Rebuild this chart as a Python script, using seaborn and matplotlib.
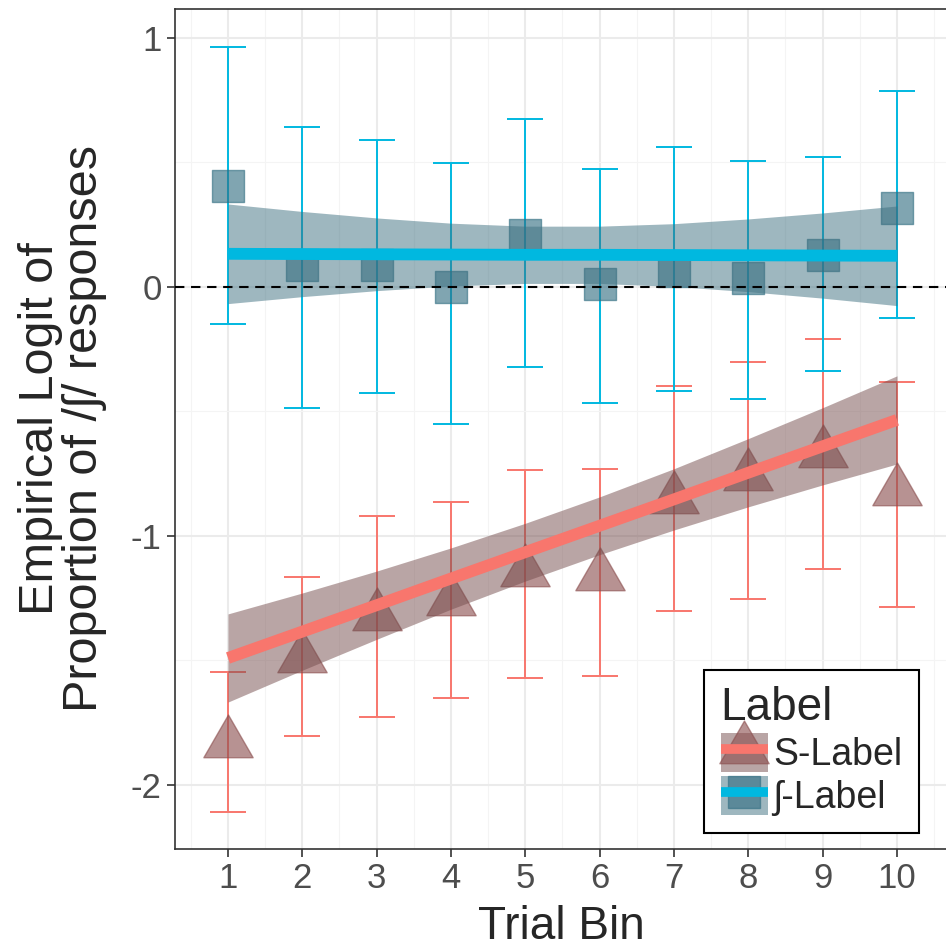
import numpy as np
import pandas as pd
import seaborn as sns
import matplotlib.pyplot as plt
from matplotlib.path import Path
from matplotlib.lines import Line2D
from matplotlib.patches import Patch

# data
bins = [1, 2, 3, 4, 5, 6, 7, 8, 9, 10]

s_mean = [-1.83, -1.49, -1.32, -1.26, -1.145, -1.16, -0.85, -0.76, -0.665, -0.82]
s_low = [-2.108, -1.803, -1.728, -1.649, -1.569, -1.563, -1.30, -1.254, -1.133, -1.285]
s_high = [-1.545, -1.165, -0.92, -0.862, -0.736, -0.731, -0.398, -0.300, -0.209, -0.380]
s_fit = [-1.490, -1.384, -1.278, -1.171, -1.065, -0.959, -0.853, -0.746, -0.640, -0.534]
s_fit_low = [-1.667, -1.539, -1.415, -1.294, -1.181, -1.075, -0.976, -0.883, -0.795, -0.711]
s_fit_high = [-1.313, -1.229, -1.141, -1.048, -0.949, -0.843, -0.730, -0.609, -0.485, -0.357]

sh_mean = [0.406, 0.090, 0.088, -0.002, 0.209, 0.012, 0.064, 0.036, 0.128, 0.317]
sh_low = [-0.150, -0.486, -0.426, -0.552, -0.321, -0.468, -0.419, -0.451, -0.337, -0.126]
sh_high = [0.965, 0.643, 0.590, 0.498, 0.675, 0.473, 0.560, 0.506, 0.523, 0.787]
sh_fit = [0.133, 0.132, 0.131, 0.130, 0.129, 0.129, 0.128, 0.127, 0.126, 0.125]
sh_fit_low = [-0.067, -0.039, -0.015, 0.004, 0.014, 0.014, 0.002, -0.019, -0.045, -0.075]
sh_fit_high = [0.333, 0.303, 0.277, 0.256, 0.244, 0.244, 0.254, 0.273, 0.297, 0.325]

labels = ["S-Label", "\u0283-Label"]

df = pd.DataFrame({
    "bin": bins * 2,
    "label": [labels[0]] * 10 + [labels[1]] * 10,
    "mean": s_mean + sh_mean,
    "low": s_low + sh_low,
    "high": s_high + sh_high,
    "fit": s_fit + sh_fit,
    "fit_low": s_fit_low + sh_fit_low,
    "fit_high": s_fit_high + sh_fit_high,
})

sns.set_style("white")
plt.rcParams["font.family"] = ["Liberation Sans", "DejaVu Sans"]
plt.rcParams["axes.unicode_minus"] = False

line_col = {labels[0]: "#F8766D", labels[1]: "#00B8E0"}
pt_col = {labels[0]: "#8C5050", labels[1]: "#326E82"}
band_col = {labels[0]: "#754D4D", labels[1]: "#3E7080"}
tri = Path([(0, 1), (-0.866, -0.5), (0.866, -0.5), (0, 1)],
           [Path.MOVETO, Path.LINETO, Path.LINETO, Path.CLOSEPOLY])
marker = {labels[0]: tri, labels[1]: "s"}
msize = {labels[0]: 41, labels[1]: 23}

fig = plt.figure(figsize=(9.46, 9.48), dpi=100)
ax = fig.add_axes([175 / 946, 99 / 948, 772 / 946, 840 / 948])

for lab in labels:
    d = df[df["label"] == lab]
    ax.errorbar(d["bin"], d["mean"],
                yerr=[d["mean"] - d["low"], d["high"] - d["mean"]],
                fmt="none", ecolor=line_col[lab], elinewidth=1.4,
                capsize=13, capthick=1.4, zorder=2)
    sns.scatterplot(data=d, x="bin", y="mean", marker=marker[lab],
                    s=msize[lab] ** 2, color=pt_col[lab], alpha=0.62,
                    edgecolor=pt_col[lab], linewidth=1, ax=ax, zorder=3,
                    legend=False)
    ax.fill_between(d["bin"], d["fit_low"], d["fit_high"],
                    color=band_col[lab], alpha=0.5, lw=0, zorder=4)

ax.axhline(0, color="black", lw=1.5, dashes=(4.5, 3.2), zorder=5)

for lab in labels:
    d = df[df["label"] == lab]
    sns.lineplot(data=d, x="bin", y="fit", color=line_col[lab], lw=8.5,
                 solid_capstyle="butt", ax=ax, zorder=6, legend=False)

ax.set_xlim(0.287, 10.673)
ax.set_ylim(-2.257, 1.116)
ax.set_xticks(bins)
ax.set_yticks([-2, -1, 0, 1])
ax.xaxis.set_minor_locator(plt.FixedLocator(np.arange(0.5, 11, 1)))
ax.yaxis.set_minor_locator(plt.FixedLocator([-1.5, -0.5, 0.5]))
ax.grid(which="major", color="#EBEBEB", lw=1.5, zorder=0)
ax.grid(which="minor", color="#F4F4F4", lw=0.8, zorder=0)
ax.set_axisbelow(True)

for sp in ax.spines.values():
    sp.set_color("#333333")
    sp.set_linewidth(1.2)
ax.tick_params(which="major", length=5.5, width=1.2, color="#333333",
               labelsize=25, labelcolor="#4D4D4D", pad=4,
               bottom=True, left=True)
ax.tick_params(which="minor", length=0)

ax.set_xlabel("Trial Bin", fontsize=33, labelpad=7)
ax.set_ylabel("Empirical Logit of\nProportion of /\u0283/ responses",
              fontsize=35, linespacing=0.97)
ax.yaxis.set_label_coords(-0.088, 0.5)

handles = []
for lab in labels:
    handles.append((
        Patch(facecolor=band_col[lab], alpha=0.5, lw=0),
        Line2D([], [], ls="", marker=marker[lab], ms=msize[lab],
               color=pt_col[lab], alpha=0.62),
        Line2D([], [], color=line_col[lab], lw=7, solid_capstyle="butt"),
    ))
leg = ax.legend(handles, labels, title="Label", loc="lower right",
                bbox_to_anchor=(0.964, 0.019), borderaxespad=0,
                fontsize=27, title_fontsize=33, frameon=True,
                fancybox=False, framealpha=1, edgecolor="black",
                handlelength=1.25, handleheight=1.2, handletextpad=0.15,
                labelspacing=0.08, borderpad=0.45, alignment="left")
leg.get_frame().set_linewidth(1.5)
leg.set_zorder(10)

fig.savefig("out.png", dpi=100)
